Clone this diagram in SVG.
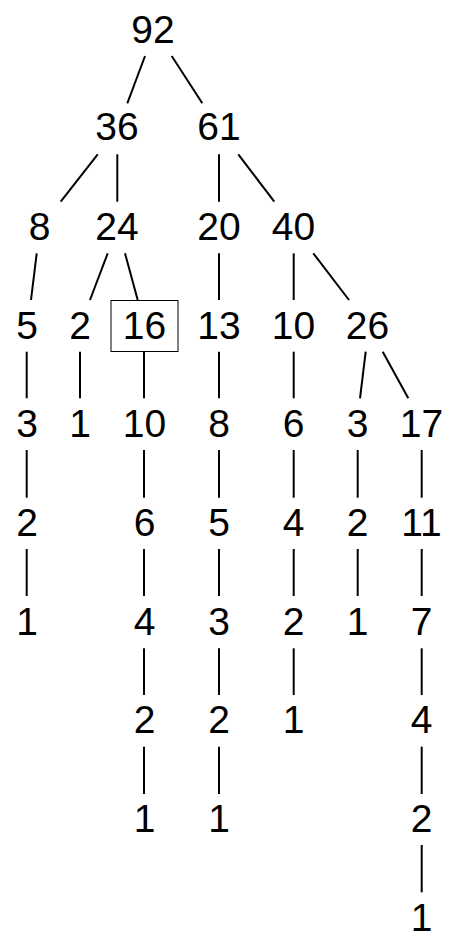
<svg xmlns="http://www.w3.org/2000/svg" width="460" height="949" viewBox="0 0 460 949">
<style>
.t{font-family:"Liberation Sans",Arial,Helvetica,sans-serif;font-size:39px;fill:#000;text-anchor:middle}
.e line{stroke:#000;stroke-width:2;fill:none}
.box{fill:none;stroke:#000;stroke-width:1}
</style>
<rect width="460" height="949" fill="#fff"/>
<g class="e" id="connectors">
<line x1="145" y1="56" x2="127.3" y2="103.3"/>
<line x1="171.7" y1="56" x2="202.3" y2="103.3"/>
<line x1="97.7" y1="154.3" x2="60.7" y2="201.7"/>
<line x1="117.3" y1="154.3" x2="117.3" y2="201.7"/>
<line x1="219" y1="154.3" x2="219" y2="201.7"/>
<line x1="238.3" y1="154.3" x2="274.3" y2="201.7"/>
<line x1="36.7" y1="253.3" x2="31" y2="300"/>
<line x1="107.7" y1="253.3" x2="90" y2="300"/>
<line x1="125" y1="253.3" x2="137.7" y2="300"/>
<line x1="219" y1="253.3" x2="219" y2="300"/>
<line x1="293.7" y1="253.3" x2="293.7" y2="300"/>
<line x1="313.3" y1="253.3" x2="349" y2="300"/>
<line x1="26.7" y1="351.7" x2="26.7" y2="398.3"/>
<line x1="80" y1="351.7" x2="80" y2="398.3"/>
<line x1="144" y1="351.7" x2="144" y2="398.3"/>
<line x1="219" y1="351.7" x2="219" y2="398.3"/>
<line x1="293.7" y1="351.7" x2="293.7" y2="398.3"/>
<line x1="365.7" y1="351.7" x2="360" y2="398.3"/>
<line x1="382.7" y1="351.7" x2="408.3" y2="398.3"/>
<line x1="26.7" y1="450" x2="26.7" y2="497.7"/>
<line x1="144" y1="450" x2="144" y2="497.7"/>
<line x1="219" y1="450" x2="219" y2="497.7"/>
<line x1="293.7" y1="450" x2="293.7" y2="497.7"/>
<line x1="357.7" y1="450" x2="357.7" y2="497.7"/>
<line x1="421.7" y1="450" x2="421.7" y2="497.7"/>
<line x1="26.7" y1="549" x2="26.7" y2="596"/>
<line x1="144" y1="549" x2="144" y2="596"/>
<line x1="219" y1="549" x2="219" y2="596"/>
<line x1="293.7" y1="549" x2="293.7" y2="596"/>
<line x1="357.7" y1="549" x2="357.7" y2="596"/>
<line x1="421.7" y1="549" x2="421.7" y2="596"/>
<line x1="144" y1="648.3" x2="144" y2="695"/>
<line x1="219" y1="648.3" x2="219" y2="695"/>
<line x1="293.7" y1="648.3" x2="293.7" y2="695"/>
<line x1="421.7" y1="648.3" x2="421.7" y2="695"/>
<line x1="144" y1="746.7" x2="144" y2="794"/>
<line x1="219" y1="746.7" x2="219" y2="794"/>
<line x1="421.7" y1="746.7" x2="421.7" y2="794"/>
<line x1="421.7" y1="845" x2="421.7" y2="892.3"/>
</g>
<g id="n92"><text class="t" x="153" y="42.5">92</text></g>
<g id="n36"><text class="t" x="117" y="140">36</text></g>
<g id="n61"><text class="t" x="219" y="140">61</text></g>
<g id="n8"><text class="t" x="39.5" y="239.5">8</text></g>
<g id="n24"><text class="t" x="117" y="239.5">24</text></g>
<g id="n20"><text class="t" x="219" y="239.5">20</text></g>
<g id="n40"><text class="t" x="293.5" y="239.5">40</text></g>
<g id="a5"><text class="t" x="27" y="338.5">5</text></g>
<g id="b2"><text class="t" x="80" y="338.5">2</text></g>
<g id="c16"><rect class="box" x="111" y="300.5" width="67" height="51"/><text class="t" x="144.5" y="338.5">16</text></g>
<g id="d13"><text class="t" x="219" y="338.5">13</text></g>
<g id="e10"><text class="t" x="293.5" y="338.5">10</text></g>
<g id="f26"><text class="t" x="367.5" y="338.5">26</text></g>
<g id="a3"><text class="t" x="27" y="437">3</text></g>
<g id="b1"><text class="t" x="80" y="437">1</text></g>
<g id="c10"><text class="t" x="144.5" y="437">10</text></g>
<g id="d8"><text class="t" x="219" y="437">8</text></g>
<g id="e6"><text class="t" x="293.5" y="437">6</text></g>
<g id="f3"><text class="t" x="357.5" y="437">3</text></g>
<g id="g17"><text class="t" x="421.5" y="437">17</text></g>
<g id="a2"><text class="t" x="27" y="535.5">2</text></g>
<g id="c6"><text class="t" x="144.5" y="535.5">6</text></g>
<g id="d5"><text class="t" x="219" y="535.5">5</text></g>
<g id="e4"><text class="t" x="293.5" y="535.5">4</text></g>
<g id="f2"><text class="t" x="357.5" y="535.5">2</text></g>
<g id="g11"><text class="t" x="421.5" y="535.5">11</text></g>
<g id="a1"><text class="t" x="27" y="634.5">1</text></g>
<g id="c4"><text class="t" x="144.5" y="634.5">4</text></g>
<g id="d3"><text class="t" x="219" y="634.5">3</text></g>
<g id="e2"><text class="t" x="293.5" y="634.5">2</text></g>
<g id="f1"><text class="t" x="357.5" y="634.5">1</text></g>
<g id="g7"><text class="t" x="421.5" y="634.5">7</text></g>
<g id="c2"><text class="t" x="144.5" y="733">2</text></g>
<g id="d2"><text class="t" x="219" y="733">2</text></g>
<g id="e1"><text class="t" x="293.5" y="733">1</text></g>
<g id="g4"><text class="t" x="421.5" y="733">4</text></g>
<g id="c1"><text class="t" x="144.5" y="832">1</text></g>
<g id="d1"><text class="t" x="219" y="832">1</text></g>
<g id="g2"><text class="t" x="421.5" y="832">2</text></g>
<g id="g1"><text class="t" x="421.5" y="931">1</text></g>
</svg>
